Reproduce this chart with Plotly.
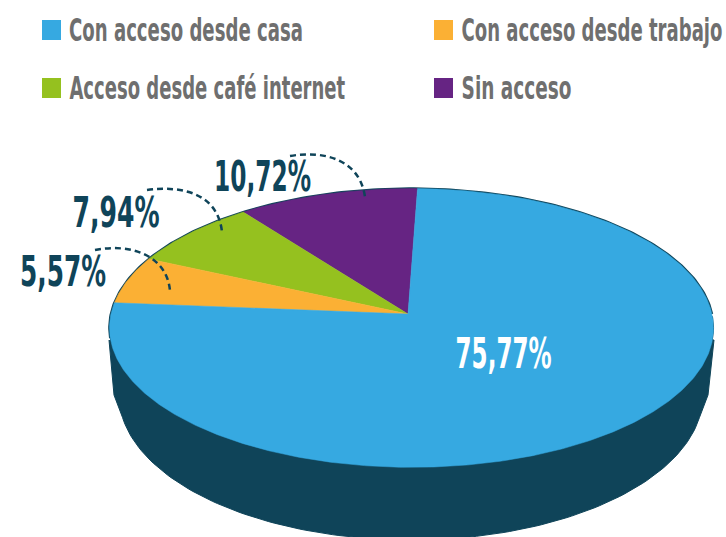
import numpy as np
import plotly.graph_objects as go

categories = ["Con acceso desde casa", "Con acceso desde trabajo",
              "Acceso desde café internet", "Sin acceso"]
values = [75.77, 5.57, 7.94, 10.72]
value_labels = ["75,77%", "5,57%", "7,94%", "10,72%"]
colors = ["#36A9E1", "#FBB034", "#95C11F", "#662483"]

DARK = "#0F4459"
W, H = 726, 537
CX, CY, RX, RY, PERSP, SKEW = 408, 314, 300.5, 138.0, 0.10, -0.0115
ROT = -2.0  # degrees


def project(theta_deg, r=1.0):
    """Map an angle (counter-clockwise from 12 o'clock) on the pie disc to the picture."""
    t = np.radians(np.asarray(theta_deg, dtype=float))
    x, y = -r * np.sin(t), r * np.cos(t)
    w = 1 + PERSP * y + SKEW * x
    return CX + RX * x / w, CY - RY * y / w


fig = go.Figure()

# side wall of the disc
bt = np.linspace(-81, 81, 120)
bx = 411 + 292 * np.sin(np.radians(bt))
by = 395 + 145 * np.cos(np.radians(bt))
tx, ty = project(np.linspace(269, 91, 160))
fig.add_trace(go.Scatter(
    x=np.r_[tx, 714, 708, bx[::-1], 114, 109], y=np.r_[ty, 340, 395, by[::-1], 395, 340],
    mode="lines", fill="toself", fillcolor=DARK, line=dict(color=DARK, width=1),
    hoverinfo="skip", showlegend=False))

# dark rim of the top face
ex, ey = project(np.linspace(-90, 100, 200))
fig.add_trace(go.Scatter(x=ex, y=ey, mode="lines", line=dict(color=DARK, width=2.5),
                         hoverinfo="skip", showlegend=False))

# slices, counter-clockwise from the top: purple, green, orange, blue
order = [3, 2, 1, 0]
start = ROT
for i in order:
    sweep = values[i] / sum(values) * 360
    th = np.linspace(start, start + sweep, max(int(sweep * 2), 8))
    sx, sy = project(th)
    ax, ay = project(0, 0)
    fig.add_trace(go.Scatter(
        x=np.r_[ax, sx, ax], y=np.r_[ay, sy, ay], mode="lines", fill="toself",
        fillcolor=colors[i], line=dict(color=colors[i], width=0.5),
        name=categories[i], hoverinfo="name", showlegend=False))
    start += sweep

FONT = "DejaVu Sans Condensed, DejaVu Sans"
# legend swatches + text: (swatch left, text left, text right, centre y)
leg_pos = [(42, 69, 303, 30), (434, 461, 722, 30), (42, 69, 345, 88), (434, 461, 571, 88)]
for name, c, (sx0, tl, tr, ly) in zip(categories, colors, leg_pos):
    fig.add_shape(type="rect", x0=sx0, x1=sx0 + 19, y0=ly - 10, y1=ly + 10,
                  fillcolor=c, line=dict(width=0))
    fig.add_annotation(x=(tl + tr) / 2, y=ly, text=name, showarrow=False, xanchor="center",
                       yanchor="middle", font=dict(family=FONT, size=32, color="#6F6F6F", weight=700))

# value labels: (left, right, centre y, colour)
lab_pos = [(455, 551, 353, "white"), (20, 106, 271, DARK), (72, 159, 212, DARK), (214, 311, 176, DARK)]
for txt, (l, r, ly, c) in zip(value_labels, lab_pos):
    fig.add_annotation(x=(l + r) / 2, y=ly, text=txt, showarrow=False,
                       font=dict(family=FONT, size=43, color=c, weight=700))

# dashed leader curves
for p in ["M 95 250 C 130 243, 167 255, 170 291",
          "M 147 190 C 185 185, 218 195, 222 232",
          "M 290 156 C 325 150, 360 160, 365 197"]:
    fig.add_shape(type="path", path=p, line=dict(color=DARK, width=2.5, dash="6px,4px"))

fig.update_layout(
    width=W, height=H, margin=dict(l=0, r=0, t=0, b=0),
    paper_bgcolor="white", plot_bgcolor="white", showlegend=False,
    xaxis=dict(range=[0, W], visible=False, fixedrange=True),
    yaxis=dict(range=[H, 0], visible=False, fixedrange=True),
)

# the reference type is very condensed: squeeze the real text to its measured widths
widths = [r[2] - r[1] for r in leg_pos] + [r[1] - r[0] for r in lab_pos]
post = """
document.body.style.margin = '0';
document.documentElement.style.overflow = 'hidden';
var w = %s;
document.querySelectorAll('.annotation-text').forEach(function (t, i) {
  var b = t.getBBox();
  var c = b.x + b.width / 2;
  var s = w[i] / b.width;
  t.setAttribute('transform', 'translate(' + c + ',0) scale(' + s + ',1) translate(' + (-c) + ',0)');
});
document.querySelectorAll('.annotation rect').forEach(function (r) { r.remove(); });
""" % widths
fig.write_html("out.html", post_script=post, config=dict(displayModeBar=False))
